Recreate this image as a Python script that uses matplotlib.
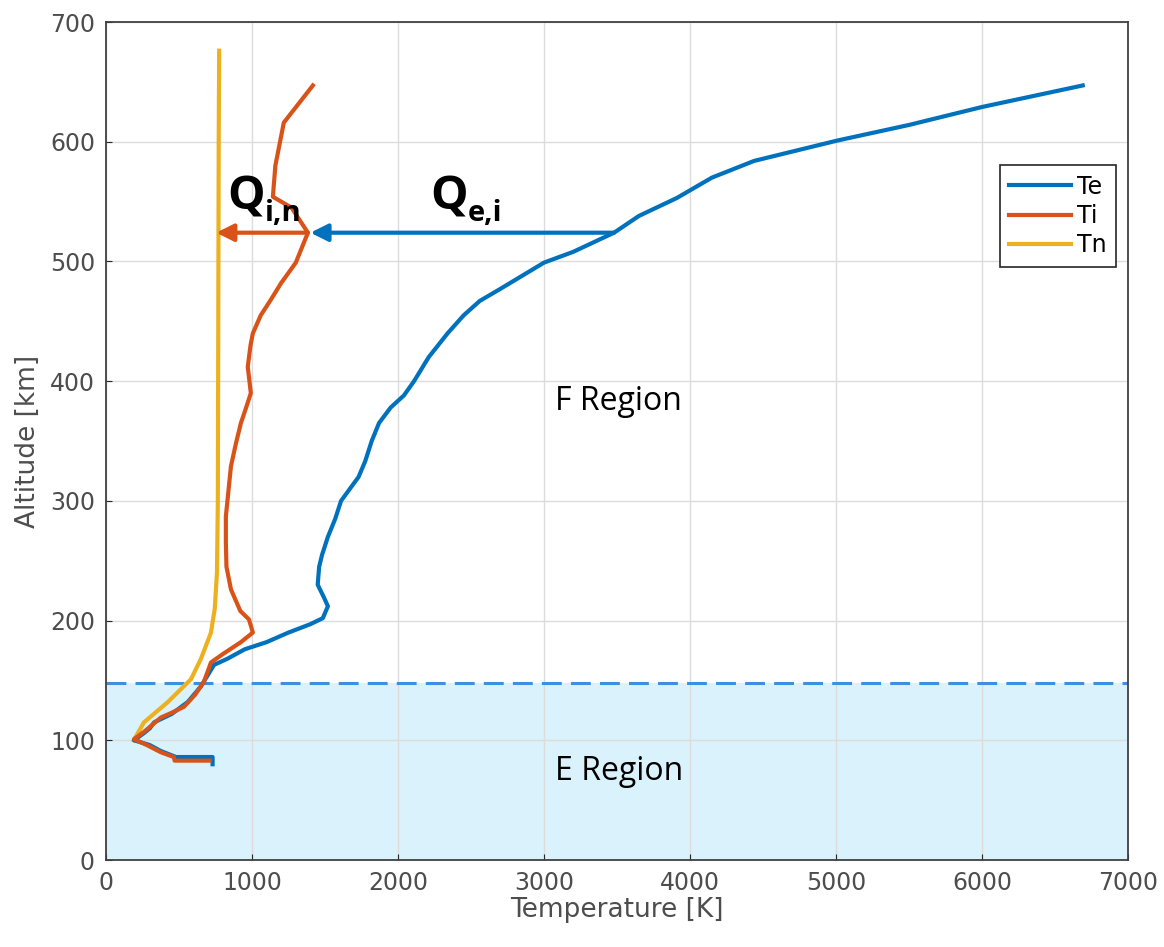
import matplotlib
matplotlib.use("Agg")
import matplotlib.pyplot as plt

# temperature profiles (K) vs altitude (km)
te_temp = [730, 730, 480, 376, 300, 192, 260, 300, 330, 450, 560, 650, 700, 740,
           830, 950, 1100, 1250, 1400, 1485, 1520, 1490, 1450, 1460, 1480, 1520, 1570, 1610,
           1670, 1730, 1775, 1820, 1870, 1950, 2040, 2110, 2210, 2340, 2450, 2560, 2700, 2850,
           3000, 3200, 3480, 3650, 3910, 4150, 4440, 5010, 5500, 6000, 6690]
te_alt = [80, 86, 86, 91, 96, 100, 106, 110, 115, 122, 132, 145, 155, 163,
          168, 176, 182, 190, 197, 202, 212, 220, 230, 245, 255, 270, 285, 300,
          310, 320, 333, 350, 365, 378, 388, 400, 420, 440, 455, 467, 477, 488,
          499, 508, 524, 538, 553, 570, 584, 601, 614, 629, 647]

ti_temp = [710, 470, 465, 376, 280, 192, 260, 376, 450, 534, 610, 671, 719, 800, 924, 1006,
           979, 920, 856, 825, 821, 821, 840, 856, 890, 924, 960, 992, 971, 990, 1006,
           1060, 1129, 1200, 1300, 1383, 1270, 1143, 1160, 1218, 1417]
ti_alt = [83, 83, 86, 90, 96, 101, 107, 119, 123, 128, 138, 149, 165, 172, 182, 190,
          201, 208, 226, 245, 265, 287, 310, 329, 348, 365, 378, 390, 412, 430, 440,
          455, 468, 482, 499, 524, 545, 554, 580, 616, 647]

tn_temp = [190, 260, 424, 582, 650, 719, 745, 760, 766, 768, 770, 772, 775]
tn_alt = [100, 115, 132, 151, 168, 190, 210, 240, 300, 400, 500, 600, 676]

e_top = 148          # top of E region (km)
arrow_alt = 524
qei_span = (3480, 1400)
qin_span = (1383, 755)

c_te, c_ti, c_tn = "#0072BD", "#D95319", "#EDB120"
lw = 3.0

fig = plt.figure(figsize=(11.64, 9.47), dpi=100)
ax = fig.add_axes([106 / 1164, 1 - 860 / 947, 1022 / 1164, 838 / 947])

ax.axhspan(0, e_top, color="#daf2fc", zorder=0.1, lw=0)
ax.axhline(e_top, color="#3d8fe0", lw=2.2, dashes=(6.5, 3), zorder=1.5)

ax.plot(te_temp, te_alt, color=c_te, lw=lw, label="Te", zorder=3, solid_joinstyle="round")
ax.plot(ti_temp, ti_alt, color=c_ti, lw=lw, label="Ti", zorder=3.2, solid_joinstyle="round")
ax.plot(tn_temp, tn_alt, color=c_tn, lw=lw, label="Tn", zorder=2.8, solid_joinstyle="round")

ax.annotate("", xy=(qei_span[1], arrow_alt), xytext=(qei_span[0], arrow_alt),
            arrowprops=dict(arrowstyle="-|>", color=c_te, lw=lw, mutation_scale=26,
                            shrinkA=0, shrinkB=0), zorder=4)
ax.annotate("", xy=(qin_span[1], arrow_alt), xytext=(qin_span[0], arrow_alt),
            arrowprops=dict(arrowstyle="-|>", color=c_ti, lw=lw, mutation_scale=26,
                            shrinkA=0, shrinkB=0), zorder=4)

# Q labels (big Q + subscript)
qfont = dict(family="Open Sans", weight="bold", color="black", va="baseline", ha="left", zorder=5)
ax.text(830, 543, "Q", fontsize=34, **qfont)
ax.text(1085, 534, "i,n", fontsize=21, **qfont)
ax.text(2220, 543, "Q", fontsize=34, **qfont)
ax.text(2475, 534, "e,i", fontsize=21, **qfont)

ax.text(3075, 376, "F Region", fontsize=23, family="Open Sans", va="baseline", ha="left")
ax.text(3075, 67, "E Region", fontsize=23, family="Open Sans", va="baseline", ha="left")

ax.set_xlim(0, 7000)
ax.set_ylim(0, 700)
ax.set_xticks(range(0, 7001, 1000))
ax.set_yticks(range(0, 701, 100))
ax.set_axisbelow(True)
ax.grid(True, color="#dcdcdc", lw=1)
ax.tick_params(direction="in", length=4, labelsize=17, labelcolor="#4d4d4d",
               color="#262626", pad=8)
for s in ax.spines.values():
    s.set_color("#404040")
    s.set_linewidth(1.3)

ax.set_xlabel("Temperature [K]", fontsize=19, color="#4d4d4d", labelpad=1)
ax.set_ylabel("Altitude [km]", fontsize=19, color="#4d4d4d", labelpad=6)

leg = ax.legend(loc="upper right", bbox_to_anchor=(0.988, 0.829), borderaxespad=0,
                fontsize=17, fancybox=False, handlelength=2.6, handletextpad=0.25,
                labelspacing=0.22, borderpad=0.4, framealpha=1)
leg.get_frame().set_edgecolor("#262626")
leg.get_frame().set_linewidth(1.2)

fig.savefig("out.png", dpi=100)
